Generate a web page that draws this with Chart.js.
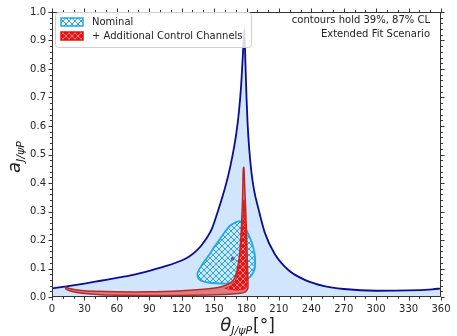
<!DOCTYPE html>
<html>
<head>
<meta charset="utf-8">
<script src="https://cdn.jsdelivr.net/npm/chart.js@4.4.0/dist/chart.umd.min.js"></script>
<style>
html, body { margin: 0; padding: 0; background: #fff; }
#wrap { width: 457px; height: 336px; }
</style>
</head>
<body>
<div id="wrap"><canvas id="chart" width="457" height="336"></canvas></div>
<script>
// main curve
const curveTheta = [0, 15, 30, 45, 60, 75, 90, 105, 120, 127, 133, 138, 143, 148, 153, 158, 163, 167, 170.5, 173, 175, 176.8, 178,
    179, 180, 181, 182.5, 184.5, 187, 191, 197, 206, 219, 234, 252, 270, 300, 330, 352, 360];
const curveA = [0.030, 0.038, 0.047, 0.057, 0.067, 0.078, 0.092, 0.108, 0.128, 0.142, 0.160, 0.180, 0.206, 0.240, 0.295, 0.355, 0.425, 0.495, 0.572, 0.650, 0.740, 0.860, 0.940,
    0.820, 0.700, 0.610, 0.520, 0.440, 0.375, 0.310, 0.225, 0.152, 0.094, 0.060, 0.038, 0.028, 0.022, 0.023, 0.027, 0.030];
// closing edges of the shaded region
const edgeTheta = [0, 0, 360, 360];
const edgeA = [0.030, 0, 0, 0.030];

// Nominal contour
const nominalTheta = [173.9, 170, 164.7, 160, 155.5, 150, 146.2, 142, 138.5, 135.5, 134.5, 135.5, 138, 146, 158, 168, 176, 183.2, 186.5, 187.8, 188, 187.5, 184.8, 180.2, 177, 173.9];
const nominalA = [0.267, 0.262, 0.250, 0.228, 0.204, 0.175, 0.152, 0.130, 0.111, 0.092, 0.080, 0.066, 0.057, 0.050, 0.047, 0.049, 0.055, 0.070, 0.088, 0.105, 0.130, 0.152, 0.192, 0.233, 0.260, 0.267];

// + Additional Control Channels, outer and inner contour
const extOuterTheta = [12, 16, 25, 40, 60, 90, 120, 140, 155, 163, 168, 171, 173, 174.5, 175.5, 176.3, 177, 177.6,
    178.2, 179.3, 180.2, 180.8, 181.3, 181.2, 179, 172, 160, 130, 100, 70, 45, 28, 18, 13, 12];
const extOuterA = [0.036, 0.030, 0.024, 0.020, 0.018, 0.018, 0.022, 0.027, 0.034, 0.045, 0.060, 0.090, 0.130, 0.190, 0.260, 0.340, 0.450, 0.455,
    0.400, 0.300, 0.200, 0.120, 0.060, 0.030, 0.018, 0.012, 0.009, 0.006, 0.005, 0.006, 0.008, 0.013, 0.020, 0.028, 0.036];
const extInnerTheta = [160, 166, 170, 172.5, 174.5, 176, 177, 177.5, 177.9, 178.6, 179.4, 180, 180.3, 179, 172, 160];
const extInnerA = [0.030, 0.040, 0.060, 0.100, 0.160, 0.220, 0.280, 0.340, 0.340, 0.260, 0.170, 0.090, 0.050, 0.030, 0.024, 0.030];

const bestFit = [{ x: 167.2, y: 0.134 }];

const xMajor = [0, 30, 60, 90, 120, 150, 180, 210, 240, 270, 300, 330, 360];
const yMajor = [0, 0.1, 0.2, 0.3, 0.4, 0.5, 0.6, 0.7, 0.8, 0.9, 1.0];

const toPoints = (xs, ys) => xs.map((x, i) => ({ x: x, y: ys[i] }));

function makeHatch(line, bg, size) {
    const c = document.createElement("canvas");
    c.width = c.height = size;
    const g = c.getContext("2d");
    if (bg) { g.fillStyle = bg; g.fillRect(0, 0, size, size); }
    g.strokeStyle = line;
    g.lineWidth = 1;
    g.beginPath();
    g.moveTo(0, 0); g.lineTo(size, size);
    g.moveTo(size, 0); g.lineTo(0, size);
    g.stroke();
    return g.createPattern(c, "repeat");
}

const blueHatch = makeHatch("#27a9e1", null, 6);
const redHatch = makeHatch("rgba(255,150,150,0.9)", "#f01010", 6);

const FONT = "'DejaVu Sans', sans-serif";

// ticks, spines, legend and labels
const decor = {
    id: "decor",
    afterDraw(chart) {
        const ctx = chart.ctx;
        const a = chart.chartArea;
        const xs = chart.scales.x, ys = chart.scales.y;
        ctx.save();

        // spines
        ctx.strokeStyle = "#333";
        ctx.lineWidth = 1;
        ctx.strokeRect(a.left + 0.5, a.top + 0.5, a.right - a.left - 1, a.bottom - a.top - 1);

        // ticks on all sides, pointing out
        ctx.beginPath();
        for (let v = 0; v <= 360; v += 10) {
            const px = Math.round(xs.getPixelForValue(v)) + 0.5;
            const len = v % 30 === 0 ? 3.5 : 2;
            ctx.moveTo(px, a.bottom); ctx.lineTo(px, a.bottom + len);
            ctx.moveTo(px, a.top); ctx.lineTo(px, a.top - len);
        }
        for (let i = 0; i <= 50; i++) {
            const py = Math.round(ys.getPixelForValue(i * 0.02)) + 0.5;
            const len = i % 5 === 0 ? 3.5 : 2;
            ctx.moveTo(a.left, py); ctx.lineTo(a.left - len, py);
            ctx.moveTo(a.right, py); ctx.lineTo(a.right + len, py);
        }
        ctx.stroke();

        // legend
        ctx.beginPath();
        ctx.roundRect(55.5, 12.5, 196, 35, 3);
        ctx.fillStyle = "rgba(255,255,255,0.85)";
        ctx.fill();
        ctx.strokeStyle = "#d0d0d0";
        ctx.stroke();

        ctx.fillStyle = blueHatch;
        ctx.fillRect(61, 18, 22, 8);
        ctx.strokeStyle = "#22aae2";
        ctx.lineWidth = 1.5;
        ctx.strokeRect(61, 18, 22, 8);

        ctx.fillStyle = redHatch;
        ctx.fillRect(61, 32, 22, 8);
        ctx.strokeStyle = "#e01010";
        ctx.strokeRect(61, 32, 22, 8);

        ctx.fillStyle = "#222";
        ctx.font = "10px " + FONT;
        ctx.textBaseline = "middle";
        ctx.textAlign = "left";
        ctx.fillText("Nominal", 92, 22.5);
        ctx.fillText("+ Additional Control Channels", 92, 36.5);

        ctx.textAlign = "right";
        ctx.fillText("contours hold 39%, 87% CL", 430, 20);
        ctx.fillText("Extended Fit Scenario", 430, 34);

        // x title
        ctx.textBaseline = "alphabetic";
        ctx.textAlign = "left";
        const big = "italic 18px " + FONT, small = "italic 11px " + FONT, bigUp = "17px " + FONT;
        ctx.font = big; const w1 = ctx.measureText("\u03b8").width;
        ctx.font = small; const w2 = ctx.measureText("J/\u03c8P").width;
        ctx.font = bigUp; const w3 = ctx.measureText("[\u00b0]").width;
        let x0 = 247 - (w1 + w2 + w3) / 2;
        ctx.font = big; ctx.fillText("\u03b8", x0, 331);
        ctx.font = small; ctx.fillText("J/\u03c8P", x0 + w1, 334);
        ctx.font = bigUp; ctx.fillText("[\u00b0]", x0 + w1 + w2 + 1, 331);

        // y title
        ctx.translate(20, 157);
        ctx.rotate(-Math.PI / 2);
        ctx.font = big; const wa = ctx.measureText("a").width;
        ctx.font = small; const wb = ctx.measureText("J/\u03c8P").width;
        const y0 = -(wa + wb) / 2;
        ctx.font = big; ctx.fillText("a", y0, 0);
        ctx.font = small; ctx.fillText("J/\u03c8P", y0 + wa, 3.5);

        ctx.restore();
    }
};

new Chart(document.getElementById("chart"), {
    type: "scatter",
    data: {
        datasets: [
            {
                data: toPoints(curveTheta, curveA),
                showLine: true,
                borderColor: "#0c0c96",
                borderWidth: 1.8,
                backgroundColor: "#d1e6fd",
                fill: "origin",
                pointRadius: 0,
                cubicInterpolationMode: "monotone",
                order: 5
            },
            {
                data: toPoints(edgeTheta, edgeA),
                showLine: true,
                borderColor: "#0c0c96",
                borderWidth: 1.8,
                fill: false,
                pointRadius: 0,
                order: 6
            },
            {
                data: toPoints(nominalTheta, nominalA),
                showLine: true,
                borderColor: "#22aae2",
                borderWidth: 1.8,
                backgroundColor: blueHatch,
                fill: "shape",
                pointRadius: 0,
                tension: 0.3,
                order: 4
            },
            {
                data: toPoints(extOuterTheta, extOuterA),
                showLine: true,
                borderColor: "#b52a2a",
                borderWidth: 1.5,
                backgroundColor: "rgba(228,90,90,0.75)",
                fill: "shape",
                pointRadius: 0,
                tension: 0.2,
                order: 3
            },
            {
                data: toPoints(extInnerTheta, extInnerA),
                showLine: true,
                borderColor: "#f01010",
                borderWidth: 1,
                backgroundColor: redHatch,
                fill: "shape",
                pointRadius: 0,
                tension: 0.2,
                order: 2
            },
            {
                data: bestFit,
                pointRadius: 2,
                pointBackgroundColor: "#5b5bd6",
                pointBorderWidth: 0,
                order: 1
            }
        ]
    },
    options: {
        responsive: false,
        animation: false,
        layout: { padding: { top: 9, right: 16, left: 0, bottom: 0 } },
        plugins: {
            legend: { display: false },
            tooltip: { enabled: false }
        },
        scales: {
            x: {
                type: "linear",
                min: 0,
                max: 360,
                afterFit: s => { s.height = 39; },
                afterBuildTicks: s => { s.ticks = xMajor.map(v => ({ value: v })); },
                grid: { display: false, drawTicks: false },
                border: { display: false },
                ticks: {
                    padding: 6,
                    color: "#262626",
                    font: { family: FONT, size: 10 },
                    maxRotation: 0,
                    callback: v => String(v)
                }
            },
            y: {
                type: "linear",
                min: 0,
                max: 1,
                afterFit: s => { s.width = 52; },
                afterBuildTicks: s => { s.ticks = yMajor.map(v => ({ value: v })); },
                grid: { display: false, drawTicks: false },
                border: { display: false },
                ticks: {
                    padding: 6,
                    color: "#262626",
                    font: { family: FONT, size: 10 },
                    callback: v => Number(v).toFixed(1)
                }
            }
        }
    },
    plugins: [decor]
});
</script>
</body>
</html>
